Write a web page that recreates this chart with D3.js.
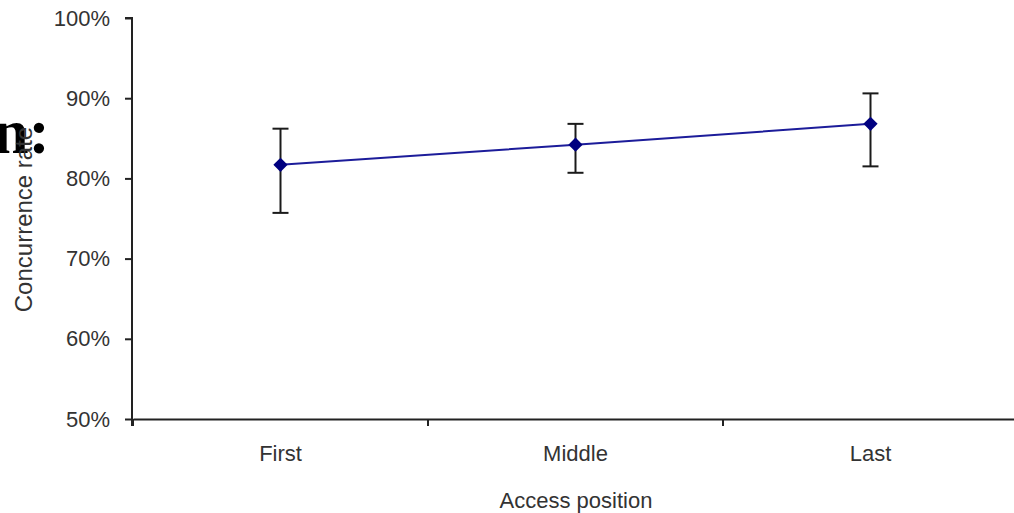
<!DOCTYPE html>
<html>
<head>
<meta charset="utf-8">
<script src="https://cdn.jsdelivr.net/npm/d3@7"></script>
<style>
  html, body { margin: 0; padding: 0; background: #fff; }
  svg { display: block; }
  text { font-family: "Liberation Sans", Arial, sans-serif; fill: #222; }
</style>
</head>
<body>
<svg id="chart" width="1014" height="513"></svg>
<script>
const categories = ["First", "Middle", "Last"];
const meanValues = [0.817, 0.842, 0.868];
const upperValues = [0.862, 0.868, 0.906];
const lowerValues = [0.757, 0.807, 0.815];
const yTickValues = [0.5, 0.6, 0.7, 0.8, 0.9, 1.0];
const yTitle = "Concurrence rate";
const xTitle = "Access position";

const svg = d3.select("#chart");

// stray slide text behind the chart
svg.append("text")
  .attr("x", -7).attr("y", 153)
  .style("font-family", "'Liberation Serif', 'Times New Roman', serif")
  .style("font-weight", "bold")
  .style("font-size", "64px")
  .style("fill", "#000")
  .text("n:");

const x = d3.scaleBand().domain(categories).range([133, 1018]).padding(0);
const y = d3.scaleLinear().domain([0.5, 1.0]).range([419, 18]);

const axisColor = "#222";

// Y axis
const yAxis = svg.append("g")
  .attr("transform", "translate(132,0)")
  .call(d3.axisLeft(y).tickValues(yTickValues).tickFormat(d3.format(".0%")).tickSize(7).tickPadding(15));
yAxis.select(".domain").attr("stroke", axisColor).attr("stroke-width", 2).attr("d", "M-7,18H0V426");
yAxis.selectAll(".tick line").attr("stroke", axisColor).attr("stroke-width", 2);
yAxis.selectAll(".tick text").style("font-size", "22px").style("fill", "#333")
  .style("font-family", "'Liberation Sans', Arial, sans-serif");

// X axis (labels)
const xAxis = svg.append("g")
  .attr("transform", "translate(0,419)")
  .call(d3.axisBottom(x).tickSize(0).tickPadding(26));
xAxis.select(".domain").attr("stroke", axisColor).attr("stroke-width", 2);
xAxis.selectAll(".tick text").style("font-size", "22px").style("fill", "#333")
  .style("font-family", "'Liberation Sans', Arial, sans-serif");

// X axis boundary ticks
const boundaries = categories.map(c => x(c));
svg.append("g").selectAll("line").data(boundaries).join("line")
  .attr("x1", d => d).attr("x2", d => d)
  .attr("y1", 419).attr("y2", 426)
  .attr("stroke", axisColor).attr("stroke-width", 2);

// Axis titles
svg.append("text")
  .attr("transform", `translate(32,${(y(0.5) + y(1.0)) / 2 + 1}) rotate(-90)`)
  .attr("text-anchor", "middle")
  .style("font-size", "24px").style("fill", "#333")
  .text(yTitle);

svg.append("text")
  .attr("x", 576).attr("y", 508)
  .attr("text-anchor", "middle")
  .style("font-size", "22px").style("fill", "#333")
  .text(xTitle);

const cx = c => x(c) + x.bandwidth() / 2;

// Error bars
const eb = svg.append("g").attr("stroke", "#1a1a1a").attr("stroke-width", 2);
categories.forEach((c, i) => {
  eb.append("line").attr("x1", cx(c)).attr("x2", cx(c))
    .attr("y1", y(upperValues[i])).attr("y2", y(lowerValues[i]));
  eb.append("line").attr("x1", cx(c) - 8).attr("x2", cx(c) + 8)
    .attr("y1", y(upperValues[i])).attr("y2", y(upperValues[i]));
  eb.append("line").attr("x1", cx(c) - 8).attr("x2", cx(c) + 8)
    .attr("y1", y(lowerValues[i])).attr("y2", y(lowerValues[i]));
});

// Line
const line = d3.line().x((d, i) => cx(categories[i])).y(d => y(d));
svg.append("path").datum(meanValues)
  .attr("d", line)
  .attr("fill", "none")
  .attr("stroke", "#1c1c9a")
  .attr("stroke-width", 2);

// Markers
svg.append("g").selectAll("path").data(meanValues).join("path")
  .attr("transform", (d, i) => `translate(${cx(categories[i])},${y(d)})`)
  .attr("d", d3.symbol().type(d3.symbolDiamond2).size(130))
  .attr("fill", "#000080");
</script>
</body>
</html>
